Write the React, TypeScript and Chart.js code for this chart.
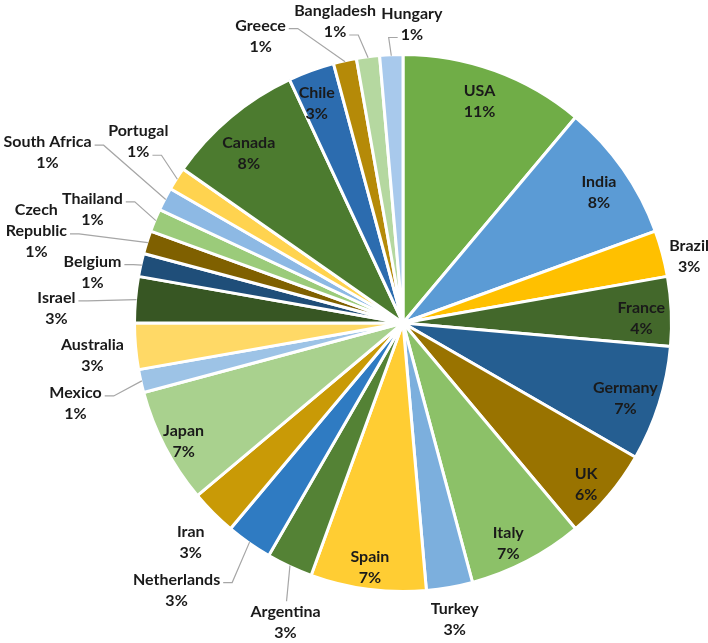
import React, { useEffect, useRef } from "react";
import { Chart, registerables } from "chart.js";

Chart.register(...registerables);

// ---- data ----
const countries = [
  "USA", "India", "Brazil", "France", "Germany", "UK", "Italy", "Turkey", "Spain",
  "Argentina", "Netherlands", "Iran", "Japan", "Mexico", "Australia", "Israel",
  "Belgium", "Czech Republic", "Thailand", "South Africa", "Portugal", "Canada",
  "Chile", "Greece", "Bangladesh", "Hungary",
];
const counts = [8, 6, 2, 3, 5, 4, 5, 2, 5, 2, 2, 2, 5, 1, 2, 2, 1, 1, 1, 1, 1, 6, 2, 1, 1, 1];

// ---- styles ----
const colors = [
  "#70AD47", "#5B9BD5", "#FFC000", "#43682B", "#255E91", "#997300", "#8CC168", "#7CAFDD", "#FFCD33",
  "#548235", "#2F7BC2", "#C99A06", "#A9D18E", "#9DC3E6", "#FFD966", "#375623",
  "#1F4E79", "#7F6000", "#9BCB7A", "#8DB9E4", "#FFD34F", "#4C7B2F",
  "#2C6CAF", "#B58A08", "#B5D8A0", "#A8C9EC",
];

// label layout: distance (fraction of radius), angle shift from slice middle (deg), leader attach
const labelDist = [
  0.875, 0.877, 1.094, 0.888, 0.874, 0.908, 0.911, 1.119, 0.919,
  1.199, 1.304, 1.136, 0.929, 1.256, 1.163, 1.292,
  1.172, 1.408, 1.232, 1.468, 1.195, 0.855,
  0.88, 1.193, 1.151, 1.114,
];
const labelShift = [
  -1, 1.3, 1.9, 1.3, 1.1, 1.3, 2, 0.1, 0.2,
  -3.6, 5.3, -0.9, -0.9, -1.3, -1, -2.6,
  -3.2, -3.4, -2.4, -1.9, 1.9, -2.2,
  -1.4, -13.9, -5.2, 4.2,
];
// null = no leader line, "top" = attach to top of label, number = attach to side of that text line
const leaderAttach: (null | "top" | number)[] = [
  null, null, null, null, null, null, null, null, null,
  "top", 0, null, null, 0, null, 0,
  0, 1, 0, 0, 1, null,
  null, 0, 1, 1,
];
const wrapNames = ["Czech Republic"];

const FONT = "bold 16px Lato";
const LINE_H = 21;

const labelPlugin = {
  id: "sliceLabels",
  afterDatasetsDraw(chart: any) {
    const ctx: CanvasRenderingContext2D = chart.ctx;
    const meta = chart.getDatasetMeta(0);
    const total = counts.reduce((a, b) => a + b, 0);
    ctx.save();
    ctx.font = FONT;
    ctx.textAlign = "center";
    ctx.textBaseline = "middle";
    meta.data.forEach((el: any, i: number) => {
      const { x, y, startAngle, endAngle, outerRadius } = el.getProps(
        ["x", "y", "startAngle", "endAngle", "outerRadius"],
        true
      );
      const mid = (startAngle + endAngle) / 2;
      const a = mid + (labelShift[i] * Math.PI) / 180;
      const d = labelDist[i] * outerRadius;
      const lx = x + Math.cos(a) * d;
      const ly = y + Math.sin(a) * d;
      const nameLines = wrapNames.includes(countries[i]) ? countries[i].split(" ") : [countries[i]];
      const lines = nameLines.concat([Math.round((counts[i] / total) * 100) + "%"]);
      const ys = lines.map((_, k) => ly + (k - (lines.length - 1) / 2) * LINE_H);

      const att = leaderAttach[i];
      if (att !== null) {
        const px = x + Math.cos(mid) * (outerRadius - 1);
        const py = y + Math.sin(mid) * (outerRadius - 1);
        ctx.beginPath();
        ctx.strokeStyle = "#A6A6A6";
        ctx.lineWidth = 1.2;
        if (att === "top") {
          const top = ys[0] - 10;
          ctx.moveTo(px, py);
          ctx.lineTo(lx + 1, top - 1);
        } else {
          const w = ctx.measureText(lines[att]).width;
          const ay = ys[att] + 3;
          let ax: number, ex: number;
          if (px >= lx) {
            ax = lx + w / 2 + 3;
            ex = ax + 9;
          } else {
            ax = lx - w / 2 - 3;
            ex = ax - 9;
          }
          ctx.moveTo(px, py);
          ctx.lineTo(ex, ay);
          ctx.lineTo(ax, ay);
        }
        ctx.stroke();
      }

      ctx.fillStyle = "#1A1A1A";
      lines.forEach((t, k) => ctx.fillText(t, lx, ys[k]));
    });
    ctx.restore();
  },
};

export default function App() {
  const ref = useRef<HTMLCanvasElement>(null);
  useEffect(() => {
    document.body.style.margin = "0";
    const chart = new Chart(ref.current!, {
      type: "pie",
      data: {
        labels: countries,
        datasets: [
          {
            data: counts,
            backgroundColor: colors,
            borderColor: "#FFFFFF",
            borderWidth: 3,
          },
        ],
      },
      options: {
        responsive: false,
        animation: false,
        layout: { padding: { left: 133, right: 35, top: 53, bottom: 50 } },
        plugins: {
          legend: { display: false },
          tooltip: { enabled: false },
        },
      },
      plugins: [labelPlugin],
    });
    return () => chart.destroy();
  }, []);
  return (
    <div style={{ width: 708, height: 643, background: "#fff" }}>
      <canvas ref={ref} width={708} height={643} style={{ display: "block", width: 708, height: 643 }} />
    </div>
  );
}
